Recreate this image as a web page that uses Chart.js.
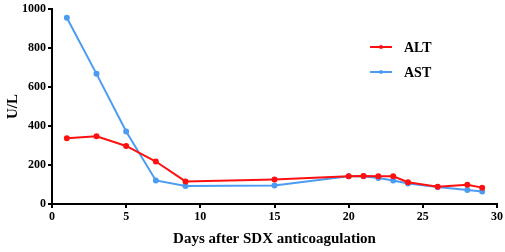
<!DOCTYPE html>
<html>
<head>
<meta charset="utf-8">
<script src="https://cdn.jsdelivr.net/npm/chart.js@4"></script>
<style>
  html, body { margin: 0; padding: 0; background: #fff; }
  #wrap { width: 505px; height: 252px; }
</style>
</head>
<body>
<div id="wrap"><canvas id="liverChart" width="505" height="252"></canvas></div>
<script>
const days = [1, 3, 5, 7, 9, 15, 20, 21, 22, 23, 24, 26, 28, 29];
const altValues = [337, 348, 298, 218, 116, 126, 142, 144, 142, 142, 112, 89, 99, 84];
const astValues = [956, 668, 372, 121, 92, 95, 142, 142, 134, 121, 105, 87, 72, 64];
const xTicks = [0, 5, 10, 15, 20, 25, 30];
const yTicks = [0, 200, 400, 600, 800, 1000];

const toPoints = (values) => days.map((d, i) => ({ x: d, y: values[i] }));

// legend drawn by hand, top right of the plot
const sideLegend = {
  id: "sideLegend",
  afterDraw(chart) {
    const ctx = chart.ctx;
    ctx.save();
    chart.data.datasets.forEach((ds, i) => {
      const y = 47 + i * 25;
      ctx.strokeStyle = ds.borderColor;
      ctx.lineWidth = 2;
      ctx.beginPath();
      ctx.moveTo(370, y);
      ctx.lineTo(392, y);
      ctx.stroke();
      ctx.fillStyle = ds.borderColor;
      ctx.beginPath();
      ctx.arc(381, y, 2, 0, Math.PI * 2);
      ctx.fill();
      ctx.fillStyle = "#000";
      ctx.font = "bold 14px 'Liberation Serif'";
      ctx.textBaseline = "middle";
      ctx.fillText(ds.label, 404, y + 1);
    });
    ctx.restore();
  },
};

const tickFont = { family: "'Liberation Serif'", weight: "bold", size: 12 };

const ctx = document.querySelector("#liverChart").getContext("2d");
new Chart(ctx, {
  type: "line",
  data: {
    datasets: [
      {
        label: "ALT",
        data: toPoints(altValues),
        borderColor: "#ff1010",
        backgroundColor: "#ff1010",
        borderWidth: 2,
        pointRadius: 2,
        pointHoverRadius: 2,
        tension: 0,
      },
      {
        label: "AST",
        data: toPoints(astValues),
        borderColor: "#4b9cf2",
        backgroundColor: "#4b9cf2",
        borderWidth: 2,
        pointRadius: 2,
        pointHoverRadius: 2,
        tension: 0,
      },
    ],
  },
  options: {
    responsive: false,
    animation: false,
    layout: { padding: { top: 5, right: 7, left: 0, bottom: 0 } },
    plugins: {
      legend: { display: false },
      tooltip: { enabled: false },
    },
    scales: {
      x: {
        type: "linear",
        min: 0,
        max: 30,
        afterBuildTicks: (axis) => {
          axis.ticks = xTicks.map((v) => ({ value: v }));
        },
        afterFit: (axis) => {
          axis.height = 48;
        },
        grid: { drawOnChartArea: false, drawTicks: true, tickLength: 4, color: "#000", lineWidth: 2 },
        border: { color: "#000", width: 2 },
        ticks: {
          color: "#000",
          padding: 2,
          maxRotation: 0,
          font: tickFont,
          callback: (v) => String(v),
        },
        title: {
          display: true,
          text: "Days after SDX anticoagulation",
          color: "#000",
          padding: { top: 11 },
          font: { family: "'Liberation Serif'", weight: "bold", size: 15 },
        },
      },
      y: {
        min: 0,
        max: 1000,
        afterBuildTicks: (axis) => {
          axis.ticks = yTicks.map((v) => ({ value: v }));
        },
        afterFit: (axis) => {
          axis.width = 52;
        },
        grid: { drawOnChartArea: false, drawTicks: true, tickLength: 4, color: "#000", lineWidth: 2 },
        border: { color: "#000", width: 2 },
        ticks: {
          color: "#000",
          padding: 2,
          font: tickFont,
          callback: (v) => String(v),
        },
        title: {
          display: true,
          text: "U/L",
          color: "#000",
          padding: { bottom: 0 },
          font: { family: "'Liberation Serif'", weight: "bold", size: 15 },
        },
      },
    },
  },
  plugins: [sideLegend],
});
</script>
</body>
</html>
